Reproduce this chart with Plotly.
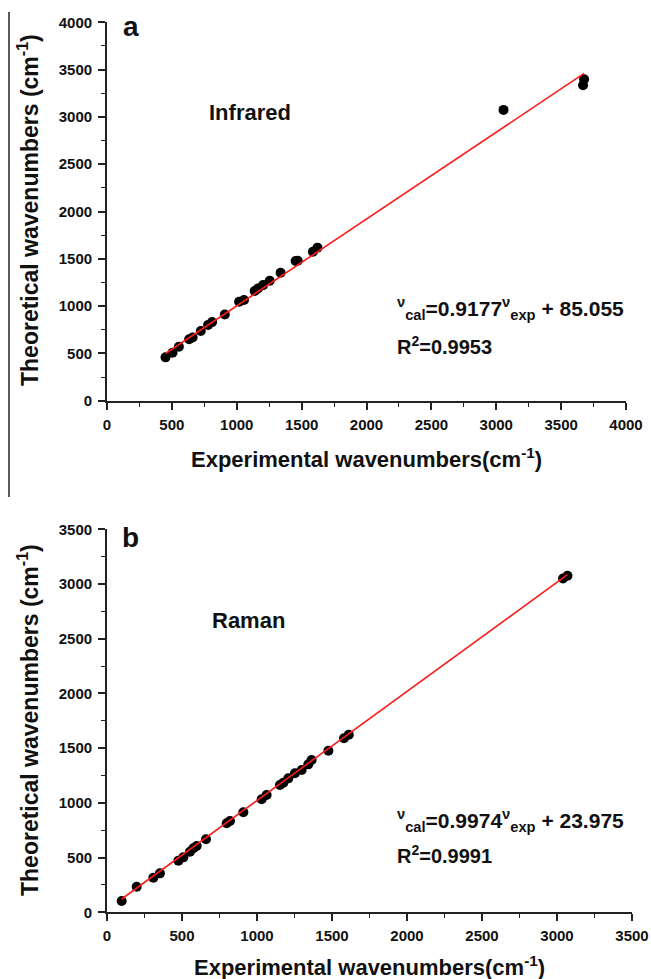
import plotly.graph_objects as go

# Infrared: experimental vs. calculated wavenumbers (cm-1)
ir_exp = [451, 505, 554, 633, 660, 723, 779, 810, 908, 1018, 1056, 1138, 1164,
          1203, 1254, 1338, 1454, 1470, 1587, 1622, 3056, 3669, 3677]
ir_cal = [458, 507, 571, 650, 668, 736, 800, 831, 912, 1046, 1064, 1159, 1187,
          1222, 1268, 1352, 1476, 1480, 1574, 1618, 3074, 3335, 3398]
ir_slope, ir_icpt, ir_r2 = 0.9177, 85.055, 0.9953

# Raman: experimental vs. calculated wavenumbers (cm-1)
raman_exp = [98, 198, 309, 353, 476, 509, 553, 576, 598, 660, 798, 820, 909,
             1031, 1064, 1153, 1176, 1209, 1253, 1298, 1342, 1364, 1476, 1580,
             1612, 3040, 3070]
raman_cal = [103, 234, 316, 356, 472, 502, 554, 585, 606, 667, 813, 834, 914,
             1033, 1072, 1163, 1184, 1224, 1270, 1300, 1352, 1392, 1477, 1590,
             1622, 3050, 3075]
raman_slope, raman_icpt, raman_r2 = 0.9974, 23.975, 0.9991

ir_ticks = [0, 500, 1000, 1500, 2000, 2500, 3000, 3500, 4000]
raman_ticks = [0, 500, 1000, 1500, 2000, 2500, 3000, 3500]

W, H = 651, 979
FONT = "Liberation Sans, Arial, sans-serif"
INK = "#111111"


def px(x):
    return x / W


def py(y):
    return (H - y) / H


def fit_line(xs, slope, icpt):
    lo, hi = min(xs), max(xs)
    return [lo, hi], [slope * lo + icpt, slope * hi + icpt]


fig = go.Figure()

for xs, ys, slope, icpt, ax in [
    (ir_exp, ir_cal, ir_slope, ir_icpt, ("x", "y")),
    (raman_exp, raman_cal, raman_slope, raman_icpt, ("x2", "y2")),
]:
    fig.add_trace(go.Scatter(
        x=xs, y=ys, mode="markers", xaxis=ax[0], yaxis=ax[1],
        marker=dict(size=10, color="black", line=dict(width=0)),
        showlegend=False, cliponaxis=False,
    ))
    lx, ly = fit_line(xs, slope, icpt)
    fig.add_trace(go.Scatter(
        x=lx, y=ly, mode="lines", xaxis=ax[0], yaxis=ax[1],
        line=dict(color="#ff1a1a", width=1.6), showlegend=False,
    ))


def axis_style(rng, ticks, domain, anchor, standoff):
    return dict(
        range=rng, domain=domain, anchor=anchor, automargin=False,
        tickmode="array", tickvals=ticks,
        ticktext=[f"<b>{t}</b>" for t in ticks],
        showline=True, linecolor="#222", linewidth=1.8,
        ticks="outside", ticklen=7, tickwidth=1.6, tickcolor="#222",
        ticklabelstandoff=standoff,
        minor=dict(ticks="outside", ticklen=4, tickwidth=1.4, tickcolor="#222",
                   dtick=250, tick0=0),
        showgrid=False, zeroline=False,
        tickfont=dict(family=FONT, size=15, color=INK, weight="bold"),
    )


top_y = (22.3, 400.7)
bot_y = (529.3, 912.3)
fig.update_layout(
    template="none",
    width=W, height=H, autosize=False,
    margin=dict(l=0, r=0, t=0, b=0, pad=0),
    paper_bgcolor="white", plot_bgcolor="white",
    xaxis=axis_style([0, 4000], ir_ticks, [px(107), px(626)], "y", 2),
    yaxis=axis_style([0, 4000], ir_ticks, [py(top_y[1]), py(top_y[0])], "x", 3),
    xaxis2=axis_style([0, 3500], raman_ticks, [px(107), px(632)], "y2", 2),
    yaxis2=axis_style([0, 3500], raman_ticks, [py(bot_y[1]), py(bot_y[0])], "x2", 3),
)


def note(text, x, y, size, xanchor="left", yanchor="middle", angle=0):
    fig.add_annotation(
        text=text, x=px(x), y=py(y), xref="paper", yref="paper",
        xanchor=xanchor, yanchor=yanchor, textangle=angle, showarrow=False,
        font=dict(family=FONT, size=size, color=INK, weight="bold"),
    )


x_title = "Experimental wavenumbers(cm<sup>-1</sup>)"
y_title = "Theoretical wavenumbers (cm<sup>-1</sup>)"
nu = "<sup>ν</sup>"

# panel a
note("a", 121, 27, 28)
note("Infrared", 250, 112, 22, xanchor="center")
note(f"{nu}<sub>cal</sub>={ir_slope}{nu}<sub>exp</sub> + {ir_icpt}", 395, 308, 21)
note(f"R<sup>2</sup>={ir_r2}", 395, 345, 20)
note(x_title, 366, 458, 22, xanchor="center")
note(y_title, 28, 210, 23, xanchor="center", angle=-90)

# panel b
note("b", 120, 537, 28)
note("Raman", 248, 620, 22, xanchor="center")
note(f"{nu}<sub>cal</sub>={raman_slope}{nu}<sub>exp</sub> + {raman_icpt}", 395, 820, 21)
note(f"R<sup>2</sup>={raman_r2}", 395, 855, 20)
note(x_title, 369, 966, 22, xanchor="center")
note(y_title, 28, 720, 23, xanchor="center", angle=-90)

# page rule at the left edge of panel a
fig.add_shape(type="line", xref="paper", yref="paper",
              x0=px(9), x1=px(9), y0=py(12), y1=py(497),
              line=dict(color="#222", width=1.5))

fig.write_html("out.html")
